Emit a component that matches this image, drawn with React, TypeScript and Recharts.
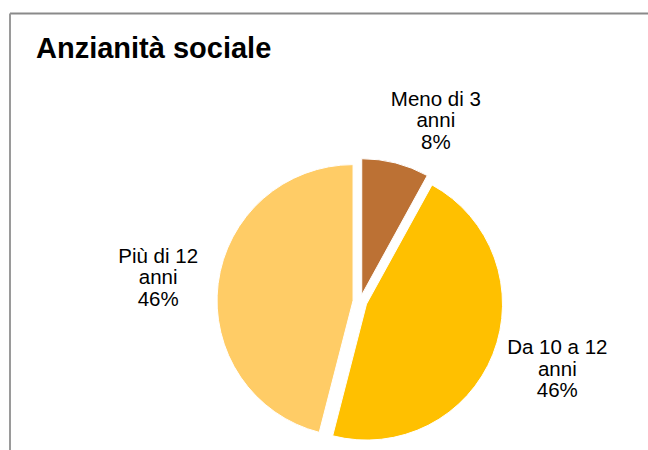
import React from "react";
import { PieChart, Pie, Cell, Sector } from "recharts";

const categories = ["Meno di 3 anni", "Da 10 a 12 anni", "Più di 12 anni"];
const values = [8, 46, 46];
const colors = ["#BC7134", "#FFC000", "#FFCC66"];

const data = categories.map((name, i) => ({ name, value: values[i] }));

const RAD = Math.PI / 180;
const EXPLODE = 7;
const FONT = "'Liberation Sans', Arial, sans-serif";

const ExplodedSector = (props: any) => {
  const { cx, cy, midAngle, innerRadius, outerRadius, startAngle, endAngle, fill } = props;
  const ox = Math.cos(-midAngle * RAD) * EXPLODE;
  const oy = Math.sin(-midAngle * RAD) * EXPLODE;
  return (
    <Sector
      cx={cx + ox}
      cy={cy + oy}
      innerRadius={innerRadius}
      outerRadius={outerRadius}
      startAngle={startAngle}
      endAngle={endAngle}
      fill={fill}
      stroke="#ffffff"
      strokeWidth={1}
    />
  );
};

const renderLabel = (props: any) => {
  const { cx, cy, midAngle, outerRadius, name, percent, index } = props;
  const dx = Math.cos(-midAngle * RAD);
  const dy = Math.sin(-midAngle * RAD);
  const D = outerRadius + EXPLODE + 9;
  const words = String(name).split(" ");
  const last = words.pop();
  const lines = [words.join(" "), last, `${Math.round(percent * 100)}%`];
  const w = Math.max(...lines.map((l) => String(l).length)) * 10;
  const h = 68;
  const sx = Math.max(-1, Math.min(1, dx * 3));
  const lx = cx + dx * D + sx * (w / 2 + 6);
  const ly = cy + dy * D + (dy * h) / 2;
  return (
    <text
      key={`lbl-${index}`}
      textAnchor="middle"
      fontFamily={FONT}
      fontSize={20.5}
      fill="#000000"
    >
      {lines.map((l, i) => (
        <tspan key={i} x={lx} y={ly + (i - 1) * 21.5 + 6}>
          {l}
        </tspan>
      ))}
    </text>
  );
};

export default function App() {
  return (
    <div style={{ position: "absolute", left: 0, top: 0, width: 648, height: 450, background: "#ffffff" }}>
      <svg
        width={648}
        height={450}
        style={{ position: "absolute", left: 0, top: 0, pointerEvents: "none" }}
      >
        <line x1={10} y1={13.5} x2={648} y2={13.5} stroke="#8a8a8a" strokeWidth={2} />
        <line x1={10} y1={13.5} x2={10} y2={450} stroke="#9a9a9a" strokeWidth={2} />
        <text x={36} y={58} fontFamily={FONT} fontWeight="bold" fontSize={29} fill="#000000">
          Anzianità sociale
        </text>
      </svg>
      <div style={{ position: "absolute", left: 0, top: 0 }}>
        <PieChart width={648} height={450} margin={{ top: 0, right: 0, bottom: 0, left: 0 }}>
          <Pie
            data={data}
            dataKey="value"
            nameKey="name"
            cx={360}
            cy={301.5}
            outerRadius={136}
            startAngle={90}
            endAngle={-270}
            isAnimationActive={false}
            labelLine={false}
            label={renderLabel}
            shape={ExplodedSector}
          >
            {data.map((d, i) => (
              <Cell key={d.name} fill={colors[i]} />
            ))}
          </Pie>
        </PieChart>
      </div>
    </div>
  );
}
